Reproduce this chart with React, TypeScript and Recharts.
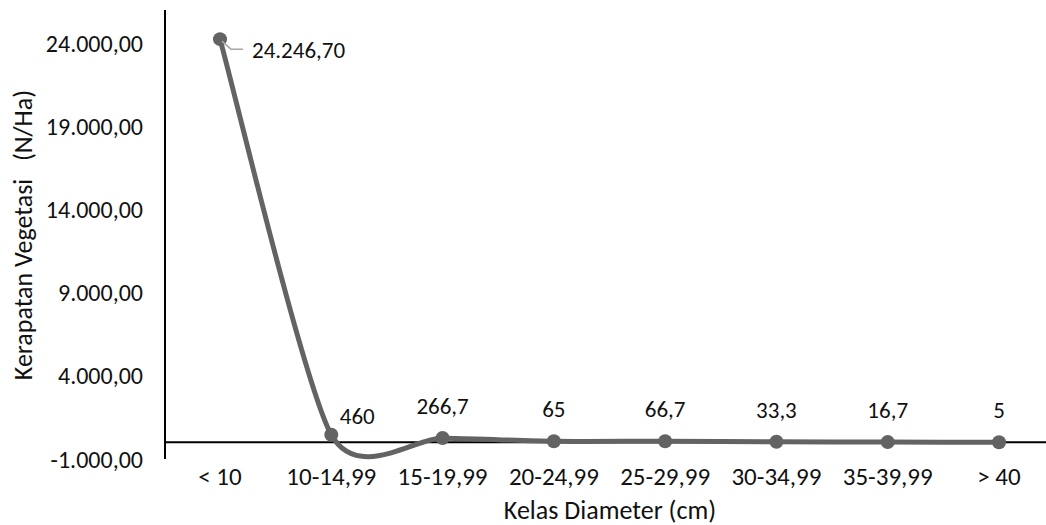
import { LineChart, Line, XAxis, YAxis, ReferenceLine, LabelList } from 'recharts';

const categories = ['< 10', '10-14,99', '15-19,99', '20-24,99', '25-29,99', '30-34,99', '35-39,99', '> 40'];
const kerapatan = [24246.7, 460, 266.7, 65, 66.7, 33.3, 16.7, 5];
const pointLabels = ['24.246,70', '460', '266,7', '65', '66,7', '33,3', '16,7', '5'];
const yTicks = [-1000, 4000, 9000, 14000, 19000, 24000];

const data = categories.map((kelas, i) => ({ kelas, kerapatan: kerapatan[i], label: pointLabels[i] }));

const FONT = "Carlito, 'Open Sans', sans-serif";
const LINE_COLOR = '#636363';
const TEXT_COLOR = '#111';

// Indonesian number format: 24.000,00
function formatId(v: number) {
  const [int, dec] = Math.abs(v).toFixed(2).split('.');
  const grouped = int.replace(/\B(?=(\d{3})+(?!\d))/g, '.');
  return (v < 0 ? '-' : '') + grouped + ',' + dec;
}

// Excel-like smoothed line (Catmull-Rom style bezier)
const SMOOTH = 0.12;
const excelSmooth = (context: any) => {
  let pts: [number, number][] = [];
  return {
    areaStart() {},
    areaEnd() {},
    lineStart() {
      pts = [];
    },
    point(x: number, y: number) {
      pts.push([+x, +y]);
    },
    lineEnd() {
      if (!pts.length) return;
      context.moveTo(pts[0][0], pts[0][1]);
      for (let i = 0; i < pts.length - 1; i++) {
        const p0 = pts[i - 1] ?? pts[i];
        const p1 = pts[i];
        const p2 = pts[i + 1];
        const p3 = pts[i + 2] ?? p2;
        context.bezierCurveTo(
          p1[0] + (p2[0] - p0[0]) * SMOOTH,
          p1[1] + (p2[1] - p0[1]) * SMOOTH,
          p2[0] - (p3[0] - p1[0]) * SMOOTH,
          p2[1] - (p3[1] - p1[1]) * SMOOTH,
          p2[0],
          p2[1]
        );
      }
    },
  };
};

const renderPointLabel = (props: any) => {
  const { x, y, value, index } = props;
  const textStyle = { fontFamily: FONT, fontSize: 23, fill: TEXT_COLOR };
  if (index === 0) {
    return (
      <g>
        <polyline
          points={`${x + 2},${y + 2} ${x + 11},${y + 10} ${x + 23},${y + 10}`}
          fill="none"
          stroke="#a6a6a6"
          strokeWidth={1.5}
        />
        <text x={x + 32} y={y + 11} dominantBaseline="central" textAnchor="start" style={textStyle}>
          {value}
        </text>
      </g>
    );
  }
  const dx = index === 1 ? 26 : 0;
  const dy = index === 1 ? -19 : -32;
  return (
    <text x={x + dx} y={y + dy} dominantBaseline="central" textAnchor="middle" style={textStyle}>
      {value}
    </text>
  );
};

export default function App() {
  return (
    <div style={{ position: 'absolute', left: 0, top: 0, width: 1046, height: 525, background: '#fff', overflow: 'hidden' }}>
      <LineChart width={1046} height={525} data={data} margin={{ top: 10, right: 0, bottom: 0, left: 0 }}>
        <XAxis
          dataKey="kelas"
          scale="point"
          padding={{ left: 55, right: 47 }}
          height={66}
          axisLine={false}
          tickLine={false}
          tickMargin={2}
          tick={{ fontFamily: FONT, fontSize: 25, fill: TEXT_COLOR }}
          label={{
            content: () => (
              <text x={610} y={519} textAnchor="middle" style={{ fontFamily: FONT, fontSize: 26, fill: TEXT_COLOR }}>
                Kelas Diameter (cm)
              </text>
            ),
          }}
        />
        <YAxis
          width={165}
          domain={[-1000, 26000]}
          ticks={yTicks}
          interval={0}
          tickFormatter={formatId}
          axisLine={{ stroke: '#000', strokeWidth: 2 }}
          tickLine={false}
          tickSize={0}
          tickMargin={22}
          tick={{ fontFamily: FONT, fontSize: 24, fill: TEXT_COLOR }}
          label={{
            content: () => (
              <text
                x={32}
                y={235}
                transform="rotate(-90, 32, 235)"
                textAnchor="middle"
                style={{ fontFamily: FONT, fontSize: 26, fill: TEXT_COLOR }}
              >
                {'Kerapatan Vegetasi \u00a0\u00a0(N/Ha)'}
              </text>
            ),
          }}
        />
        <ReferenceLine y={0} stroke="#000" strokeWidth={2} />
        <Line
          type={excelSmooth as any}
          dataKey="kerapatan"
          stroke={LINE_COLOR}
          strokeWidth={5}
          dot={{ r: 7, fill: LINE_COLOR, stroke: LINE_COLOR, strokeWidth: 0 }}
          activeDot={false}
          isAnimationActive={false}
        >
          <LabelList dataKey="label" content={renderPointLabel} />
        </Line>
      </LineChart>
    </div>
  );
}
